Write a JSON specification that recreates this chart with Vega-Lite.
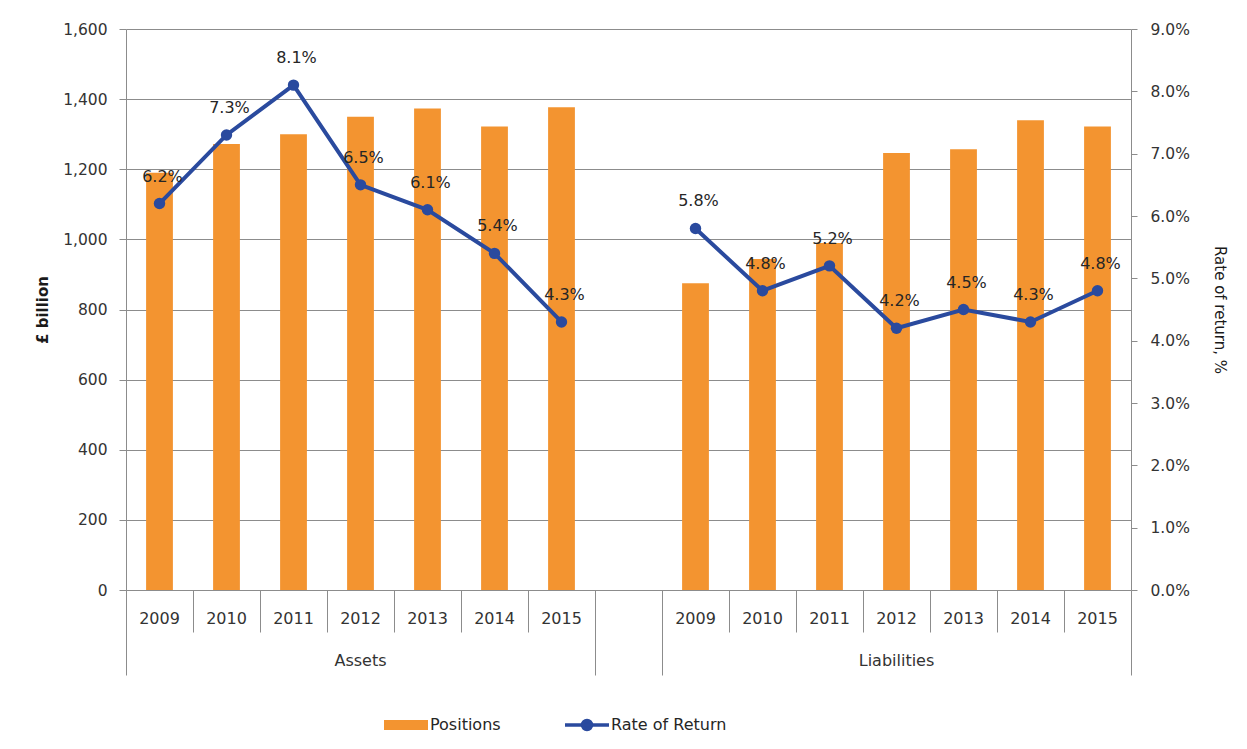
{
  "$schema": "https://vega.github.io/schema/vega-lite/v6.json",
  "width": 1005,
  "height": 561,
  "autosize": "none",
  "padding": {"left": 126, "top": 29, "right": 116, "bottom": 159},
  "background": "white",
  "config": {
    "view": {"stroke": null},
    "font": "DejaVu Sans",
    "axis": {
      "domainColor": "#8c8c8c",
      "tickColor": "#8c8c8c",
      "gridColor": "#8c8c8c",
      "labelColor": "#333333",
      "labelFont": "DejaVu Sans",
      "labelFontSize": 15.5,
      "titleFont": "DejaVu Sans",
      "titleColor": "#1a1a1a"
    }
  },
  "data": {
    "values": [
      {"group": "Assets", "year": "2009", "key": "A2009", "positions": 1190, "rate": 0.062},
      {"group": "Assets", "year": "2010", "key": "A2010", "positions": 1272, "rate": 0.073},
      {"group": "Assets", "year": "2011", "key": "A2011", "positions": 1300, "rate": 0.081},
      {"group": "Assets", "year": "2012", "key": "A2012", "positions": 1350, "rate": 0.065},
      {"group": "Assets", "year": "2013", "key": "A2013", "positions": 1373, "rate": 0.061},
      {"group": "Assets", "year": "2014", "key": "A2014", "positions": 1322, "rate": 0.054},
      {"group": "Assets", "year": "2015", "key": "A2015", "positions": 1377, "rate": 0.043},
      {"group": "Liabilities", "year": "2009", "key": "L2009", "positions": 875, "rate": 0.058},
      {"group": "Liabilities", "year": "2010", "key": "L2010", "positions": 944, "rate": 0.048},
      {"group": "Liabilities", "year": "2011", "key": "L2011", "positions": 990, "rate": 0.052},
      {"group": "Liabilities", "year": "2012", "key": "L2012", "positions": 1246, "rate": 0.042},
      {"group": "Liabilities", "year": "2013", "key": "L2013", "positions": 1257, "rate": 0.045},
      {"group": "Liabilities", "year": "2014", "key": "L2014", "positions": 1340, "rate": 0.043},
      {"group": "Liabilities", "year": "2015", "key": "L2015", "positions": 1322, "rate": 0.048}
    ]
  },
  "layer": [
    {
      "mark": {"type": "bar", "width": {"band": 0.4}},
      "encoding": {
        "x": {
          "field": "key", "type": "nominal",
          "scale": {"domain": ["A2009","A2010","A2011","A2012","A2013","A2014","A2015","gap","L2009","L2010","L2011","L2012","L2013","L2014","L2015"], "paddingInner": 0, "paddingOuter": 0},
          "axis": {
            "orient": "bottom", "title": null, "labelAngle": 0,
            "labelExpr": "isString(datum.value) && datum.value != 'gap' ? substring(datum.value, 1, 5) : ''",
            "bandPosition": 0, "labelAlign": "center", "labelPadding": -22, "labelDx": 33.5,
            "labelFontSize": 16, "tickSize": 42, "labelBaseline": "top", "grid": false
          }
        },
        "y": {
          "field": "positions", "type": "quantitative",
          "scale": {"domain": [0, 1600], "nice": false},
          "axis": {
            "orient": "left", "title": "£ billion", "titleFontWeight": "bold", "titleFontSize": 15,
            "values": [0, 200, 400, 600, 800, 1000, 1200, 1400, 1600],
            "format": ",d", "grid": true, "tickSize": 7, "labelPadding": 12, "titlePadding": 12
          }
        },
        "fill": {
          "datum": "Positions", "type": "nominal",
          "scale": {"range": ["#F39430"]},
          "legend": {
            "orient": "none", "legendX": 270, "legendY": 686, "title": null, "padding": 0,
            "symbolType": "M-2.2,-0.5H2.2V0.5H-2.2Z", "symbolSize": 400, "symbolStrokeWidth": 0,
            "labelOffset": 14, "labelFontSize": 16, "labelColor": "#262626", "labelFont": "DejaVu Sans"
          }
        }
      }
    },
    {
      "mark": {"type": "line", "strokeWidth": 4},
      "encoding": {
        "x": {
          "field": "key", "type": "nominal",
          "scale": {"domain": ["A2009","A2010","A2011","A2012","A2013","A2014","A2015","gap","L2009","L2010","L2011","L2012","L2013","L2014","L2015"], "paddingInner": 0, "paddingOuter": 0},
          "axis": {
            "orient": "bottom", "title": null, "values": ["A2009", "gap", "L2009"],
            "bandPosition": 0, "labels": false, "domain": false, "tickSize": 85, "grid": false
          }
        },
        "y": {
          "field": "rate", "type": "quantitative",
          "scale": {"domain": [0, 0.09], "nice": false},
          "axis": {
            "orient": "right", "title": "Rate of return, %", "titleAngle": 90, "titleFontSize": 15, "titleFontWeight": "normal",
            "values": [0, 0.01, 0.02, 0.03, 0.04, 0.05, 0.06, 0.07, 0.08, 0.09],
            "format": ".1%", "grid": false, "tickSize": 6, "labelPadding": 13, "titlePadding": 22
          }
        },
        "stroke": {
          "datum": "Rate of Return", "type": "nominal",
          "scale": {"range": ["#2A4A9E"]},
          "legend": {
            "orient": "none", "legendX": 449, "legendY": 684, "title": null, "padding": 0,
            "symbolType": "M-2.2,0H2.2M0.45,0A0.45,0.45,0,1,1,-0.45,0A0.45,0.45,0,1,1,0.45,0Z",
            "symbolSize": 400, "symbolStrokeWidth": 3.5, "symbolFillColor": "#2A4A9E", "symbolStrokeColor": "#2A4A9E",
            "labelOffset": 12, "labelFontSize": 16, "labelColor": "#262626", "labelFont": "DejaVu Sans"
          }
        },
        "detail": {"field": "group"}
      }
    },
    {
      "mark": {"type": "point", "filled": true, "size": 130, "color": "#2A4A9E", "opacity": 1},
      "encoding": {
        "x": {
          "field": "key", "type": "nominal",
          "scale": {"domain": ["A2009","A2010","A2011","A2012","A2013","A2014","A2015","gap","L2009","L2010","L2011","L2012","L2013","L2014","L2015"], "paddingInner": 0, "paddingOuter": 0},
          "axis": {
            "orient": "bottom", "title": null, "values": ["L2015"],
            "bandPosition": 1, "labels": false, "domain": false, "tickSize": 85, "grid": false
          }
        },
        "y": {
          "field": "rate", "type": "quantitative",
          "scale": {"domain": [0, 0.09], "nice": false},
          "axis": null
        }
      }
    },
    {
      "mark": {"type": "text", "dy": -27, "dx": 3, "fontSize": 16, "color": "#262626", "font": "DejaVu Sans"},
      "encoding": {
        "x": {
          "field": "key", "type": "nominal",
          "scale": {"domain": ["A2009","A2010","A2011","A2012","A2013","A2014","A2015","gap","L2009","L2010","L2011","L2012","L2013","L2014","L2015"], "paddingInner": 0, "paddingOuter": 0},
          "axis": {
            "orient": "bottom", "title": null, "values": ["A2012", "L2012"],
            "labelExpr": "datum.value == 'A2012' ? 'Assets' : 'Liabilities'",
            "labelAngle": 0, "ticks": false, "tickSize": 0, "domain": false, "labelPadding": 62,
            "labelBaseline": "top", "labelFontSize": 16, "grid": false
          }
        },
        "y": {
          "field": "rate", "type": "quantitative",
          "scale": {"domain": [0, 0.09], "nice": false},
          "axis": null
        },
        "text": {"field": "rate", "type": "quantitative", "format": ".1%"}
      }
    }
  ],
  "resolve": {
    "scale": {"y": "independent"},
    "axis": {"x": "independent", "y": "independent"}
  }
}
